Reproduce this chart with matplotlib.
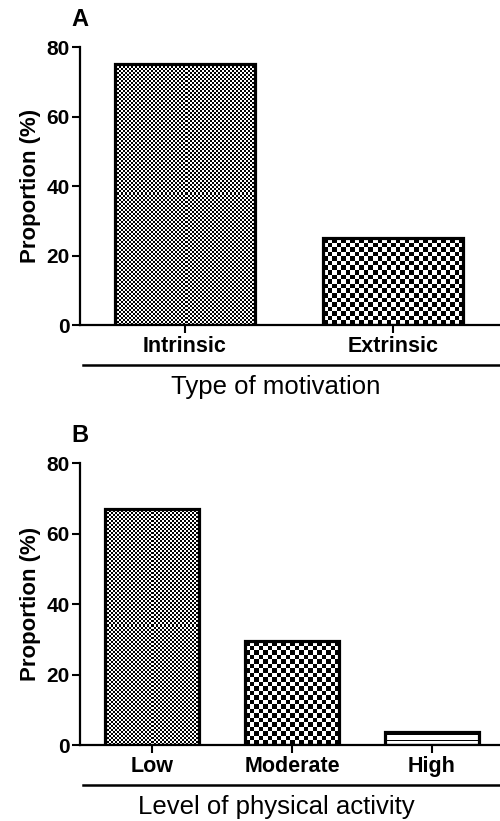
import numpy as np
import matplotlib
matplotlib.use("Agg")
import matplotlib.pyplot as plt
from matplotlib.lines import Line2D

plt.rcParams['font.family'] = ['Liberation Sans', 'DejaVu Sans']

# ---- data ----
motivation_cats = ["Intrinsic", "Extrinsic"]
motivation_vals = [75, 25]
activity_cats = ["Low", "Moderate", "High"]
activity_vals = [67, 29.5, 3.7]
yticks = [0, 20, 40, 60, 80]

# pattern per bar: ("checker", square px) or ("stripes", period px)
patterns_A = [("checker", 2), ("checker", 4.6)]
patterns_B = [("checker", 2), ("checker", 4.6), ("stripes", 5)]

W, H = 500, 821
fig = plt.figure(figsize=(W / 100, H / 100), dpi=100)


def fill_pattern(ax, bar, kind, size):
    x0, y0 = bar.get_x(), bar.get_y()
    x1, y1 = x0 + bar.get_width(), y0 + bar.get_height()
    p0 = ax.transData.transform((x0, y0))
    p1 = ax.transData.transform((x1, y1))
    wpx, hpx = abs(p1[0] - p0[0]), abs(p1[1] - p0[1])
    if kind == "checker":
        nx = max(1, int(round(wpx / size)))
        ny = max(1, int(round(hpx / size)))
        ii, jj = np.indices((ny, nx))
        img = ((ii + jj) % 2).astype(float)
    else:
        ny = max(1, int(round(hpx)))
        rows = np.array([(r % size == size - 1) for r in range(ny)], float)
        rows = 1 - rows
        img = np.repeat(rows[:, None], 2, axis=1)
    im = ax.imshow(img, cmap="gray", vmin=0, vmax=1, extent=(x0, x1, y0, y1),
                   aspect="auto", interpolation="nearest", origin="lower", zorder=1)
    im.set_clip_path(bar)


def panel(bottom_px, top_px, cats, vals, patterns, letter, xlabel, left_x, right_x):
    left = 80 / W
    ax = fig.add_axes([left, 1 - bottom_px / H, 1 - left, (bottom_px - top_px) / H])
    x = np.arange(len(cats))
    ax.set_xlim(left_x, right_x)
    ax.set_ylim(0, 80)
    bars = ax.bar(x, vals, width=0.675, facecolor="none", edgecolor="black",
                  linewidth=2.3, zorder=3)
    for b, (kind, size) in zip(bars, patterns):
        fill_pattern(ax, b, kind, size)
    ax.set_xlim(left_x, right_x)
    ax.set_ylim(0, 80)
    for s in ["top", "right"]:
        ax.spines[s].set_visible(False)
    for s in ["left", "bottom"]:
        ax.spines[s].set_linewidth(1.6)
    ax.set_yticks(yticks)
    ax.set_xticks(x)
    ax.set_xticklabels(cats, fontsize=15.5, fontweight="bold")
    ax.tick_params(axis="y", labelsize=15, width=1.5, length=6, pad=1.5)
    ax.tick_params(axis="x", width=1.5, length=6, pad=2)
    for t in ax.get_yticklabels():
        t.set_fontweight("bold")
    ax.set_ylabel("Proportion (%)", fontsize=16, fontweight="bold", labelpad=4)
    # underline below categories
    yl = 1 - (bottom_px + 40) / H
    fig.add_artist(Line2D([83 / W, 1.0], [yl, yl], color="black", lw=1.8))
    fig.text(276 / W, 1 - (bottom_px + 62) / H, xlabel,
             fontsize=18.5, ha="center", va="center")
    fig.text(71 / W, 1 - (top_px - 28) / H, letter, fontsize=17, fontweight="bold",
             ha="left", va="center")
    return ax


panel(325, 47, motivation_cats, motivation_vals, patterns_A, "A",
      "Type of motivation", -0.505, 1.514)
panel(745, 463, activity_cats, activity_vals, patterns_B, "B",
      "Level of physical activity", -0.514, 2.486)

fig.savefig("out.png", dpi=100)
